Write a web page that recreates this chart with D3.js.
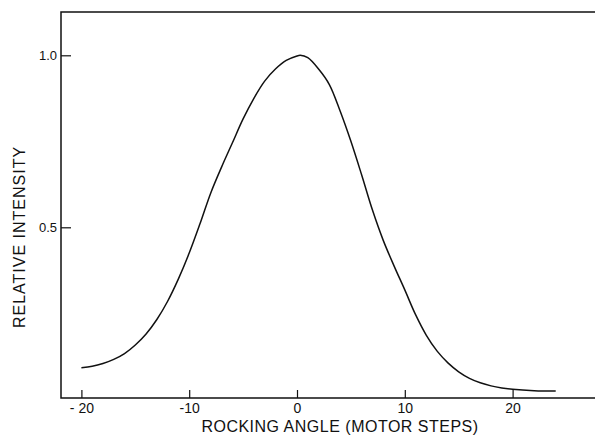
<!DOCTYPE html>
<html>
<head>
<meta charset="utf-8">
<script src="https://cdn.jsdelivr.net/npm/d3@7"></script>
<style>
  html, body { margin: 0; padding: 0; background: #fff; }
  svg { display: block; font-family: "Liberation Sans", Arial, sans-serif; }
</style>
</head>
<body>
<div id="chart"></div>
<script>
// Data
const angle = [-20, -19, -18, -17, -16, -15, -14, -13, -12, -11, -10, -9, -8, -7, -6, -5, -4, -3, -2, -1, 0, 0.3, 1, 2, 3, 4, 5, 6, 7, 8, 9, 10, 11, 12, 13, 14, 15, 16, 17, 18, 19, 20, 22, 24];
const intensity = [0.092, 0.096, 0.104, 0.116, 0.133, 0.158, 0.19, 0.232, 0.285, 0.35, 0.425, 0.51, 0.6, 0.675, 0.745, 0.815, 0.875, 0.925, 0.96, 0.985, 0.998, 1.0, 0.993, 0.96, 0.915, 0.838, 0.75, 0.652, 0.55, 0.462, 0.388, 0.318, 0.246, 0.186, 0.14, 0.106, 0.08, 0.061, 0.048, 0.039, 0.033, 0.029, 0.025, 0.024];
const xTickValues = [-20, -10, 0, 10, 20];
const xTickLabels = ["- 20", "-10", "0", "10", "20"];
const yTickValues = [0.5, 1.0];
const yTickLabels = ["0.5", "1.0"];
const xTitle = "ROCKING ANGLE (MOTOR STEPS)";
const yTitle = "RELATIVE INTENSITY";

const W = 595, H = 436;
const plotLeft = 61, plotRight = 595, plotTop = 12, plotBottom = 398;

const svg = d3.select("#chart").append("svg").attr("width", W).attr("height", H);

const x = d3.scaleLinear().domain([-20, 20]).range([81.4, 512.6]);
const y = d3.scaleLinear().domain([0, 1]).range([399.3, 55.3]);

const ink = "#111";

// frame: left, top, bottom lines
svg.append("path")
  .attr("d", `M${plotRight},${plotTop} L${plotLeft},${plotTop} L${plotLeft},${plotBottom} L${plotRight},${plotBottom}`)
  .attr("fill", "none").attr("stroke", ink).attr("stroke-width", 1.5);

// x axis ticks (inward)
const xAxis = d3.axisBottom(x)
  .tickValues(xTickValues)
  .tickSizeInner(-8).tickSizeOuter(0).tickPadding(5)
  .tickFormat((d, i) => xTickLabels[i]);
const gx = svg.append("g").attr("transform", `translate(0,${plotBottom})`).call(xAxis);
gx.select(".domain").remove();
gx.selectAll(".tick line").attr("stroke", ink).attr("stroke-width", 1.2);
gx.selectAll(".tick text").attr("fill", ink).attr("font-size", 14).attr("font-family", "Liberation Sans, Arial, sans-serif");

// y axis ticks (inward)
const yAxis = d3.axisLeft(y)
  .tickValues(yTickValues)
  .tickSizeInner(-10).tickSizeOuter(0).tickPadding(4)
  .tickFormat((d, i) => yTickLabels[i]);
const gy = svg.append("g").attr("transform", `translate(${plotLeft},0)`).call(yAxis);
gy.select(".domain").remove();
gy.selectAll(".tick line").attr("stroke", ink).attr("stroke-width", 1.2);
gy.selectAll(".tick text").attr("fill", ink).attr("font-size", 13).attr("font-family", "Liberation Sans, Arial, sans-serif");

// curve
const line = d3.line()
  .x((d, i) => x(angle[i]))
  .y((d, i) => y(intensity[i]))
  .curve(d3.curveCatmullRom.alpha(0.5));
svg.append("path")
  .datum(intensity)
  .attr("d", line)
  .attr("fill", "none").attr("stroke", ink).attr("stroke-width", 1.5);

// titles
svg.append("text")
  .attr("x", 340).attr("y", 432)
  .attr("text-anchor", "middle")
  .attr("font-size", 16).attr("letter-spacing", 0.5).attr("fill", ink)
  .text(xTitle);

svg.append("text")
  .attr("transform", `translate(25,237) rotate(-90)`)
  .attr("text-anchor", "middle")
  .attr("font-size", 16).attr("letter-spacing", 1).attr("fill", ink)
  .text(yTitle);
</script>
</body>
</html>
